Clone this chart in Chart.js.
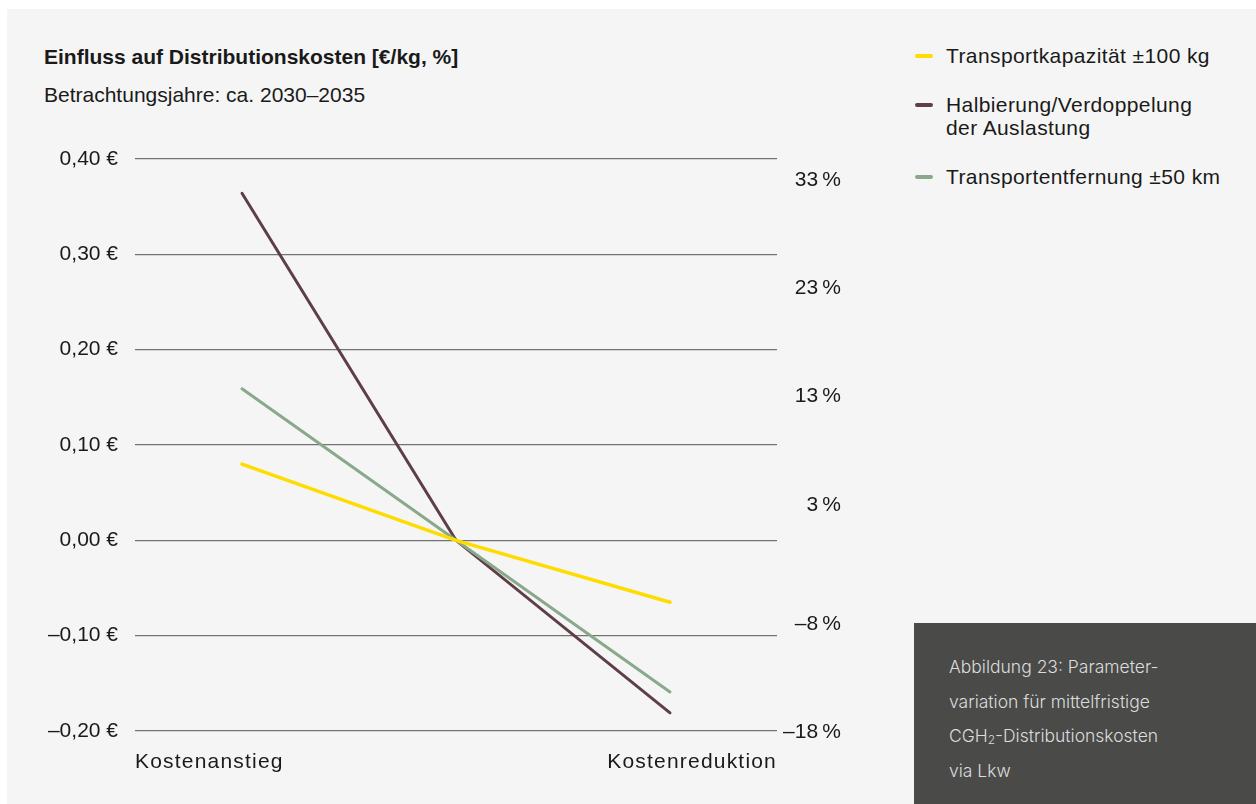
<!DOCTYPE html>
<html lang="de">
<head>
<meta charset="utf-8">
<title>Einfluss auf Distributionskosten</title>
<script src="https://cdn.jsdelivr.net/npm/chart.js@4.4.1/dist/chart.umd.min.js"></script>
<style>
  html, body { margin: 0; padding: 0; background: #ffffff; }
  body { width: 1256px; height: 804px; position: relative; overflow: hidden;
         font-family: "Liberation Sans", Arial, sans-serif; color: #1a1a1a; }
  .panel { position: absolute; left: 7px; top: 9px; right: 0; bottom: 0; background: #f5f5f5; }
  .title { position: absolute; left: 44px; top: 44px; font-size: 21px; font-weight: bold; line-height: 26px; }
  .subtitle { position: absolute; left: 44px; top: 82px; font-size: 21px; line-height: 26px; }
  #chartBox { position: absolute; left: 0; top: 0; width: 880px; height: 804px; }
  .legend { position: absolute; left: 915px; top: 44px; font-size: 21px; line-height: 23px; letter-spacing: 0.4px; }
  .legend .item { position: relative; padding-left: 31px; margin-bottom: 26px; }
  .legend .swatch { position: absolute; left: 0; top: 10px; width: 18px; height: 4px; border-radius: 2px; }
  .caption { position: absolute; left: 914px; top: 623px; right: 0; bottom: 0; background: #4a4a49;
             color: #dcdcdc; font-family: Inter, "Liberation Sans", sans-serif;
             font-size: 17.5px; font-weight: 300; line-height: 34.7px;
             padding: 27px 0 0 35px; box-sizing: border-box; }
  .caption sub { font-size: 12px; line-height: 0; vertical-align: -2px; }
</style>
</head>
<body>
<div class="panel"></div>
<div class="title">Einfluss auf Distributionskosten [€/kg, %]</div>
<div class="subtitle">Betrachtungsjahre: ca. 2030–2035</div>
<div id="chartBox"><canvas id="chart"></canvas></div>
<div class="legend" id="legend"></div>
<div class="caption">Abbildung 23: Parameter-<br>variation für mittelfristige<br>CGH<sub>2</sub>-Distributionskosten<br>via Lkw</div>

<script>
// Szenarien: Kostenanstieg – Basis – Kostenreduktion
const categories = ['Kostenanstieg', 'Basis', 'Kostenreduktion'];
const edgeLabels = ['Kostenanstieg', 'Kostenreduktion'];

// Änderung der Distributionskosten in €/kg
const kapazitaet = [0.08, 0, -0.065];
const auslastung = [0.364, 0, -0.181];
const entfernung = [0.159, 0, -0.159];

const seriesNames = [
  'Transportkapazität ±100 kg',
  'Halbierung/Verdoppelung<br>der Auslastung',
  'Transportentfernung ±50 km'
];
const seriesColors = ['#ffdc00', '#5f3f47', '#89a98a'];

// Achsenbeschriftungen
const euroTicks = [0.4, 0.3, 0.2, 0.1, 0, -0.1, -0.2];
const percentTicks = [33, 23, 13, 3, -8, -18];

const tickFont = { family: '"Liberation Sans", Arial, sans-serif', size: 21 };
const minus = '\u2013';

function fmtEuro(v) {
  const s = Math.abs(v).toFixed(2).replace('.', ',');
  return (v < -1e-9 ? minus : '') + s + ' €';
}
function fmtPercent(v) {
  return (v < 0 ? minus : '') + Math.abs(v) + '\u202F%';
}

// HTML-Legende
const legendEl = document.getElementById('legend');
seriesNames.forEach((name, i) => {
  const item = document.createElement('div');
  item.className = 'item';
  item.innerHTML = '<span class="swatch" style="background:' + seriesColors[i] + '"></span>' + name;
  legendEl.appendChild(item);
});

// gesperrte Schrift nur für die Szenario-Beschriftung unten
// (deren Ticks liegen über den Linien, ticks.z: 1)
const spacedLabels = {
  id: 'spacedLabels',
  afterDatasetsDraw(chart) { chart.ctx.letterSpacing = '1.2px'; },
  afterDraw(chart) { chart.ctx.letterSpacing = '0px'; }
};

const ctx = document.getElementById('chart').getContext('2d');
new Chart(ctx, {
  type: 'line',
  data: {
    labels: categories,
    datasets: [
      { label: seriesNames[0], data: kapazitaet, borderColor: seriesColors[0], borderWidth: 3.5, order: 0 },
      { label: seriesNames[1], data: auslastung, borderColor: seriesColors[1], borderWidth: 3, order: 2 },
      { label: seriesNames[2], data: entfernung, borderColor: seriesColors[2], borderWidth: 3, order: 1 }
    ]
  },
  plugins: [spacedLabels],
  options: {
    responsive: true,
    maintainAspectRatio: false,
    animation: false,
    elements: {
      point: { radius: 0 },
      line: { tension: 0, borderCapStyle: 'round' }
    },
    layout: { padding: { top: 159, right: 39, bottom: 0, left: 0 } },
    scales: {
      x: {
        type: 'category',
        offset: true,
        display: false
      },
      xEdge: {
        type: 'linear',
        position: 'bottom',
        min: 0,
        max: 1,
        afterBuildTicks: (axis) => { axis.ticks = [{ value: 0 }, { value: 1 }]; },
        afterFit: (axis) => { axis.height = 73; },
        grid: { display: false, drawTicks: false },
        border: { display: false },
        ticks: {
          z: 1,
          align: 'inner',
          padding: 19,
          maxRotation: 0,
          autoSkip: false,
          color: '#1a1a1a',
          font: tickFont,
          callback: (v) => (v === 0 ? edgeLabels[0] : edgeLabels[1])
        }
      },
      y: {
        position: 'left',
        min: -0.2,
        max: 0.4,
        afterBuildTicks: (axis) => { axis.ticks = euroTicks.map(v => ({ value: v })); },
        afterFit: (axis) => { axis.width = 135; },
        grid: { color: '#737373', lineWidth: 1.2, drawTicks: false },
        border: { display: false },
        ticks: {
          padding: 17,
          color: '#1a1a1a',
          font: tickFont,
          callback: (v) => fmtEuro(v)
        }
      },
      y1: {
        position: 'right',
        min: -17.88,
        max: 34.92,
        afterBuildTicks: (axis) => { axis.ticks = percentTicks.map(v => ({ value: v })); },
        afterFit: (axis) => { axis.width = 64; },
        grid: { display: false, drawTicks: false },
        border: { display: false },
        ticks: {
          crossAlign: 'far',
          color: '#1a1a1a',
          font: tickFont,
          callback: (v) => fmtPercent(v)
        }
      }
    },
    plugins: {
      legend: { display: false },
      tooltip: { enabled: false }
    }
  }
});
</script>
</body>
</html>
